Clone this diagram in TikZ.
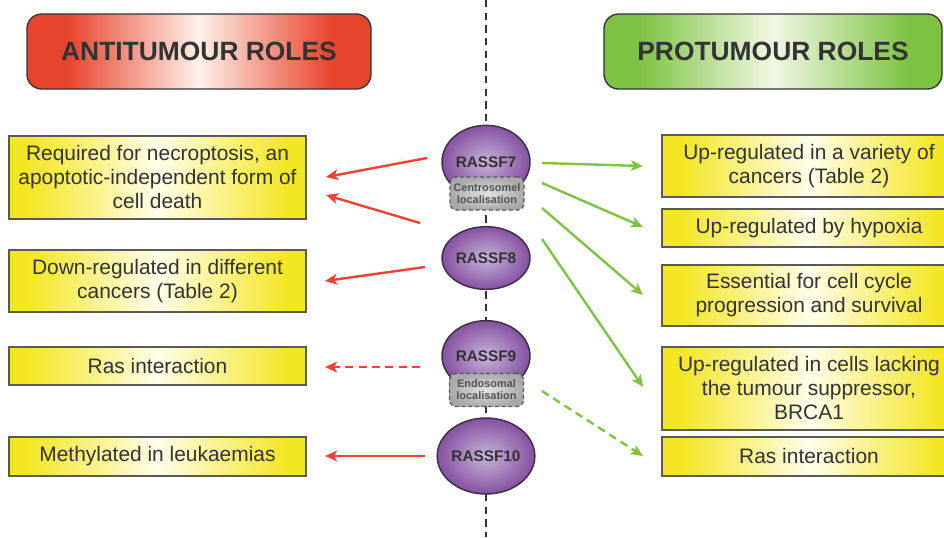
\documentclass[tikz,border=0pt]{standalone}
\usepackage{fontspec}
\setmainfont{Liberation Sans}
\usetikzlibrary{shapes.geometric,arrows.meta}
\definecolor{hred}{HTML}{E8452F}
\definecolor{hredc}{HTML}{FDF1EA}
\definecolor{hgrn}{HTML}{7DC242}
\definecolor{hgrnc}{HTML}{F1F7E4}
\definecolor{byel}{HTML}{F3E622}
\definecolor{byelc}{HTML}{FFFDEA}
\definecolor{ppur}{HTML}{8552A1}
\definecolor{plav}{HTML}{C7B2D9}
\definecolor{pedge}{HTML}{3E2E48}
\definecolor{gin}{HTML}{E2E2E2}
\definecolor{gout}{HTML}{A9A9A9}
\definecolor{txt}{HTML}{333333}
\definecolor{bord}{HTML}{5A5A5A}
\definecolor{ared}{HTML}{EC4332}
\definecolor{agrn}{HTML}{80C342}
\pgfdeclarehorizontalshading{redsh}{100bp}{color(0bp)=(hred); color(25bp)=(hred); color(31bp)=(hred); color(50bp)=(hredc); color(69bp)=(hred); color(75bp)=(hred); color(100bp)=(hred)}
\pgfdeclarehorizontalshading{grnsh}{100bp}{color(0bp)=(hgrn); color(25bp)=(hgrn); color(30bp)=(hgrn); color(50bp)=(hgrnc); color(70bp)=(hgrn); color(75bp)=(hgrn); color(100bp)=(hgrn)}
\pgfdeclarehorizontalshading{yelsh}{100bp}{color(0bp)=(byel); color(25bp)=(byel); color(28bp)=(byel); color(50bp)=(byelc); color(72bp)=(byel); color(75bp)=(byel); color(100bp)=(byel)}
\begin{document}
\begin{tikzpicture}[x=0.75pt,y=-0.75pt,
  hdr/.style={draw=txt, line width=1pt, rounded corners=11pt, shade, minimum height=56.25pt,
    inner sep=0pt, font=\fontsize{19.8}{22}\selectfont\bfseries, text=txt},
  ybox/.style={draw=bord, line width=0.9pt, shade, shading=yelsh, align=center, inner sep=0pt,
    font=\fontsize{15.7}{18}\selectfont, text=txt},
  lbox/.style={ybox, minimum width=222.75pt},
  rbox/.style={ybox, minimum width=220.5pt},
  prot/.style={ellipse, draw=pedge, line width=1.1pt, inner color=plav, outer color=ppur,
    minimum width=66pt, inner sep=0pt, font=\fontsize{11.5}{13}\selectfont\bfseries, text=txt},
  loc/.style={draw=bord, dashed, dash pattern=on 3pt off 2pt, line width=1pt, rounded corners=5pt,
    inner color=gin, outer color=gout, minimum width=55.5pt, minimum height=24.75pt, inner sep=0pt,
    align=center, font=\fontsize{8.2}{9}\selectfont\bfseries, text=txt!85!white},
  midline/.style={draw=txt, line width=2pt, dash pattern=on 5.5pt off 4pt},
  redarr/.style={draw=ared, line width=1.8pt, -{Stealth[length=9pt,width=8pt,inset=2.2pt]}},
  grnarr/.style={draw=agrn, line width=1.8pt, -{Stealth[length=9pt,width=8pt,inset=2.2pt]}},
  dsh/.style={dash pattern=on 6pt off 4pt}
]
\useasboundingbox (0,0) rectangle (944,537);
\coordinate (mtop) at (486,0);
\coordinate (mbot) at (486,537);
\draw[midline] (mtop) -- (mbot);

% headers
\node[hdr, shading=redsh, minimum width=258pt] (anti) at (199,51.5) {ANTITUMOUR ROLES};
\node[hdr, shading=grnsh, minimum width=253.5pt] (pro) at (773,51.5) {PROTUMOUR ROLES};

% left boxes
\node[lbox, minimum height=62.25pt] (l1) at (157.5,177.5) {Required for necroptosis, an\\apoptotic-independent form of\\cell death};
\node[lbox, minimum height=46.5pt] (l2) at (157.5,281) {Down-regulated in different\\cancers (Table 2)};
\node[lbox, minimum height=28.5pt] (l3) at (157.5,366) {Ras interaction};
\node[lbox, minimum height=29.25pt] (l4) at (157.5,456.5) {Methylated in leukaemias};

% right boxes
\node[rbox, minimum height=46.5pt] (r1) at (809,166) {Up-regulated in a variety of\\cancers (Table 2)};
\node[rbox, minimum height=28.5pt] (r2) at (809,228) {Up-regulated by hypoxia};
\node[rbox, minimum height=45.75pt] (r3) at (809,295.5) {Essential for cell cycle\\progression and survival};
\node[rbox, minimum height=62.25pt] (r4) at (809,388.5) {Up-regulated in cells lacking\\the tumour suppressor,\\BRCA1};
\node[rbox, minimum height=29.25pt] (r5) at (809,456.5) {Ras interaction};

% proteins
\node[prot, minimum height=55pt] (p7) at (486,162) {RASSF7};
\node[loc] (c7) at (487,193.5) {Centrosomel\\localisation};
\node[prot, minimum height=47pt] (p8) at (486,258) {RASSF8};
\node[prot, minimum height=53pt] (p9) at (486,356) {RASSF9};
\node[loc] (c9) at (486.5,390) {Endosomal\\localisation};
\node[prot, minimum height=57pt] (p10) at (486,456) {RASSF10};

% arrow end points
\coordinate (a1s) at (427,158); \coordinate (a1e) at (326,177);
\coordinate (a2s) at (420,223); \coordinate (a2e) at (326,195);
\coordinate (a3s) at (425,267); \coordinate (a3e) at (325,281);
\coordinate (a4s) at (420,367); \coordinate (a4e) at (325,367);
\coordinate (a5s) at (425,456); \coordinate (a5e) at (325,456);
\coordinate (g1s) at (542,163); \coordinate (g1e) at (643,166);
\coordinate (g2s) at (542,183); \coordinate (g2e) at (643,227);
\coordinate (g3s) at (542,208); \coordinate (g3e) at (643,295);
\coordinate (g4s) at (542,239); \coordinate (g4e) at (643,387);
\coordinate (g5s) at (542,391); \coordinate (g5e) at (643,456);

\draw[redarr] (a1s) -- (a1e);
\draw[redarr] (a2s) -- (a2e);
\draw[redarr] (a3s) -- (a3e);
\draw[redarr, dsh] (a4s) -- (a4e);
\draw[redarr] (a5s) -- (a5e);
\draw[grnarr] (g1s) -- (g1e);
\draw[grnarr] (g2s) -- (g2e);
\draw[grnarr] (g3s) -- (g3e);
\draw[grnarr] (g4s) -- (g4e);
\draw[grnarr, dsh] (g5s) -- (g5e);
\end{tikzpicture}
\end{document}
